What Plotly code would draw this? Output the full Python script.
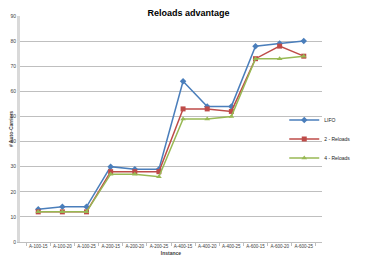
import plotly.graph_objects as go

categories = ["A-100-15", "A-100-20", "A-100-25", "A-200-15", "A-200-20", "A-200-25",
              "A-400-15", "A-400-20", "A-400-25", "A-600-15", "A-600-20", "A-600-25"]
lifo = [13, 14, 14, 30, 29, 29, 64, 54, 54, 78, 79, 80]
reloads2 = [12, 12, 12, 28, 28, 28, 53, 53, 52, 73, 78, 74]
reloads4 = [12, 12, 12, 27, 27, 26, 49, 49, 50, 73, 73, 74]

series = [
    ("LIFO", lifo, "#4A7EBB", "diamond", 5),
    ("2 - Reloads", reloads2, "#BE4B48", "square", 5),
    ("4 - Reloads", reloads4, "#98B954", "triangle-up", 5),
]

fig = go.Figure()
for name, vals, col, sym, sz in series:
    fig.add_trace(go.Scatter(x=categories, y=vals, name=name, mode="lines+markers",
                             line=dict(color=col, width=1.5),
                             marker=dict(symbol=sym, size=sz, color=col)))

# page body has an 8px default margin, so the figure is sized/offset to compensate
fig.update_layout(
    width=361, height=255,
    margin=dict(l=12, r=47, t=8, b=21, autoexpand=False),
    paper_bgcolor="white", plot_bgcolor="white",
    font=dict(family="Liberation Sans", size=4.5, color="#404040"),
    title=dict(text="<b>Reloads advantage</b>", x=0.5, xanchor="center", y=0.992, yanchor="top",
               font=dict(size=9, color="black"), pad=dict(t=0)),
    showlegend=True,
    legend=dict(x=0.875, y=0.456, xanchor="left", yanchor="middle", itemwidth=30,
                font=dict(size=5, color="#222222"), bgcolor="rgba(0,0,0,0)",
                tracegroupgap=0),
    xaxis=dict(type="category", tickson="boundaries", ticks="outside", ticklen=3,
               tickcolor="#BFBFBF", showline=True, linecolor="#BFBFBF", linewidth=1,
               showgrid=False, tickfont=dict(size=4.5), tickangle=0, automargin=False,
               title=dict(text="<b>Instance</b>", font=dict(size=5), standoff=3)),
    yaxis=dict(range=[0, 90], dtick=10, showgrid=True, gridcolor="#BFBFBF", gridwidth=1,
               showline=True, linecolor="#D9D9D9", linewidth=3, zeroline=False,
               ticks="", tickfont=dict(size=5), automargin=False,
               title=dict(text="<b># Auto-Carriers</b>", font=dict(size=5), standoff=9)),
)

fig.write_html("out.html")
